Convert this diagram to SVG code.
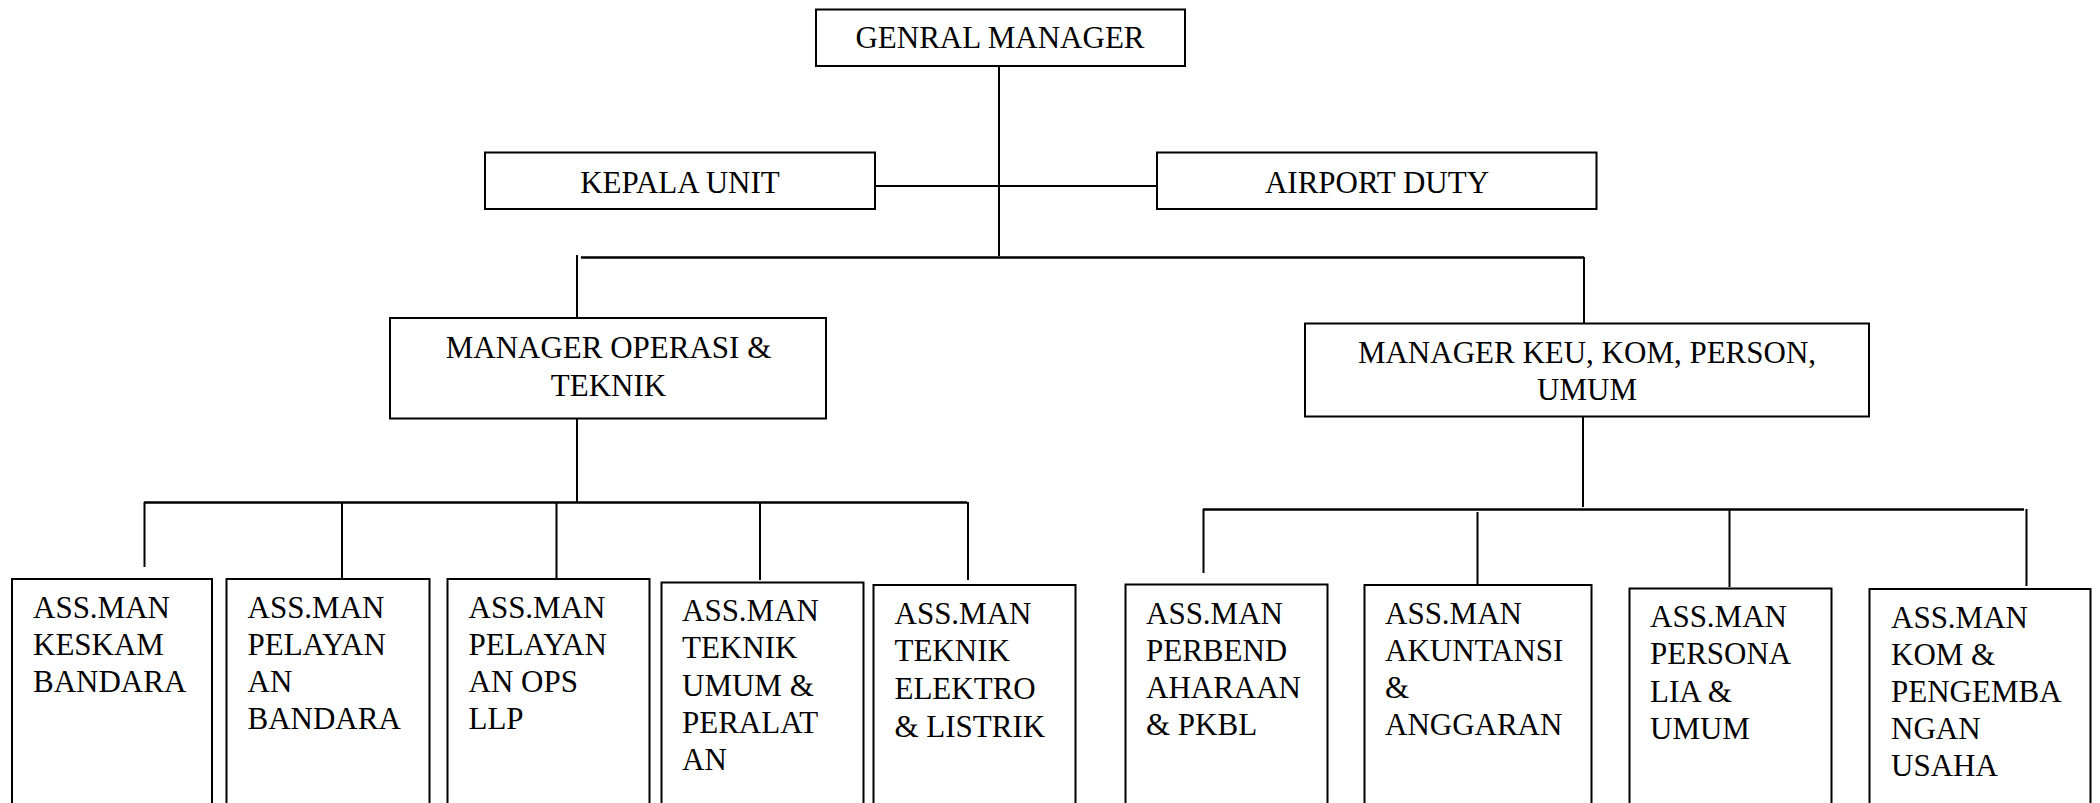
<svg xmlns="http://www.w3.org/2000/svg" width="2100" height="803" viewBox="0 0 2100 803">
<style>
.box{fill:#fff;stroke:#000;stroke-width:2}
text{font-family:'Liberation Serif','Times New Roman',serif;font-size:31px;fill:#000}
.c{text-anchor:middle}
.ln{stroke:#000;stroke-width:2;fill:none}
.bus{stroke:#000;stroke-width:2.5;fill:none}
</style>
<rect width="2100" height="803" fill="#fff"/>
<g id="connectors">
<line class="ln" x1="999" y1="66" x2="999" y2="256"/>
<line class="ln" x1="875" y1="186" x2="1157" y2="186"/>
<line class="bus" x1="581" y1="257.5" x2="1584" y2="257.5"/>
<line class="ln" x1="577" y1="255" x2="577" y2="318"/>
<line class="ln" x1="1584" y1="257" x2="1584" y2="331"/>
<line class="ln" x1="577" y1="418" x2="577" y2="502"/>
<line class="bus" x1="144" y1="502.5" x2="967" y2="502.5"/>
<line class="ln" x1="144.5" y1="502" x2="144.5" y2="567"/>
<line class="ln" x1="342" y1="502" x2="342" y2="583"/>
<line class="ln" x1="556.5" y1="502" x2="556.5" y2="580"/>
<line class="ln" x1="760" y1="502" x2="760" y2="580"/>
<line class="ln" x1="968" y1="502" x2="968" y2="580"/>
<line class="ln" x1="1583" y1="417" x2="1583" y2="507"/>
<line class="bus" x1="1203" y1="509.5" x2="2024" y2="509.5"/>
<line class="ln" x1="1203.5" y1="509" x2="1203.5" y2="573"/>
<line class="ln" x1="1477.5" y1="512" x2="1477.5" y2="589"/>
<line class="ln" x1="1729.5" y1="509" x2="1729.5" y2="587"/>
<line class="ln" x1="2026.5" y1="509" x2="2026.5" y2="586"/>
</g>
<g id="gm"><rect class="box" x="816" y="9.5" width="369" height="56.5"/><text class="c" x="1000" y="48">GENRAL MANAGER</text></g>
<g id="kepala-unit"><rect class="box" x="485" y="152.5" width="390" height="56.5"/><text class="c" x="680" y="193">KEPALA UNIT</text></g>
<g id="airport-duty"><rect class="box" x="1157" y="152.5" width="439.5" height="56.5"/><text class="c" x="1377" y="193">AIRPORT DUTY</text></g>
<g id="manager-ops"><rect class="box" x="390" y="318" width="436" height="100.5"/><text class="c" x="608.5" y="357.5">MANAGER OPERASI &amp;</text><text class="c" x="608.5" y="396">TEKNIK</text></g>
<g id="manager-keu"><rect class="box" x="1305" y="323.5" width="564" height="93"/><text class="c" x="1587" y="363">MANAGER KEU, KOM, PERSON,</text><text class="c" x="1587" y="400">UMUM</text></g>
<g id="am1"><rect class="box" x="12" y="579" width="200" height="240"/><text><tspan x="33" y="618">ASS.MAN</tspan><tspan x="33" y="655">KESKAM</tspan><tspan x="33" y="692">BANDARA</tspan></text></g>
<g id="am2"><rect class="box" x="226.5" y="579" width="203" height="240"/><text><tspan x="247.5" y="618">ASS.MAN</tspan><tspan x="247.5" y="655">PELAYAN</tspan><tspan x="247.5" y="692">AN</tspan><tspan x="247.5" y="729">BANDARA</tspan></text></g>
<g id="am3"><rect class="box" x="447.5" y="579" width="202" height="240"/><text><tspan x="468.5" y="618">ASS.MAN</tspan><tspan x="468.5" y="655">PELAYAN</tspan><tspan x="468.5" y="692">AN OPS</tspan><tspan x="468.5" y="729">LLP</tspan></text></g>
<g id="am4"><rect class="box" x="661.5" y="582.5" width="202" height="240"/><text><tspan x="682" y="621">ASS.MAN</tspan><tspan x="682" y="658">TEKNIK</tspan><tspan x="682" y="696">UMUM &amp;</tspan><tspan x="682" y="733">PERALAT</tspan><tspan x="682" y="770">AN</tspan></text></g>
<g id="am5"><rect class="box" x="873.5" y="585" width="202" height="240"/><text><tspan x="894.5" y="624">ASS.MAN</tspan><tspan x="894.5" y="661">TEKNIK</tspan><tspan x="894.5" y="699">ELEKTRO</tspan><tspan x="894.5" y="736.5">&amp; LISTRIK</tspan></text></g>
<g id="am6"><rect class="box" x="1125.5" y="584.5" width="202" height="240"/><text><tspan x="1146" y="624">ASS.MAN</tspan><tspan x="1146" y="661">PERBEND</tspan><tspan x="1146" y="698">AHARAAN</tspan><tspan x="1146" y="735">&amp; PKBL</tspan></text></g>
<g id="am7"><rect class="box" x="1364.5" y="585" width="227" height="240"/><text><tspan x="1385" y="624">ASS.MAN</tspan><tspan x="1385" y="661">AKUNTANSI</tspan><tspan x="1385" y="698">&amp;</tspan><tspan x="1385" y="735">ANGGARAN</tspan></text></g>
<g id="am8"><rect class="box" x="1629.5" y="588.5" width="202" height="240"/><text><tspan x="1650" y="627">ASS.MAN</tspan><tspan x="1650" y="664">PERSONA</tspan><tspan x="1650" y="701.5">LIA &amp;</tspan><tspan x="1650" y="738.5">UMUM</tspan></text></g>
<g id="am9"><rect class="box" x="1869.5" y="589" width="221" height="240"/><text><tspan x="1891" y="628">ASS.MAN</tspan><tspan x="1891" y="665">KOM &amp;</tspan><tspan x="1891" y="702">PENGEMBA</tspan><tspan x="1891" y="738.5">NGAN</tspan><tspan x="1891" y="776">USAHA</tspan></text></g>
</svg>
